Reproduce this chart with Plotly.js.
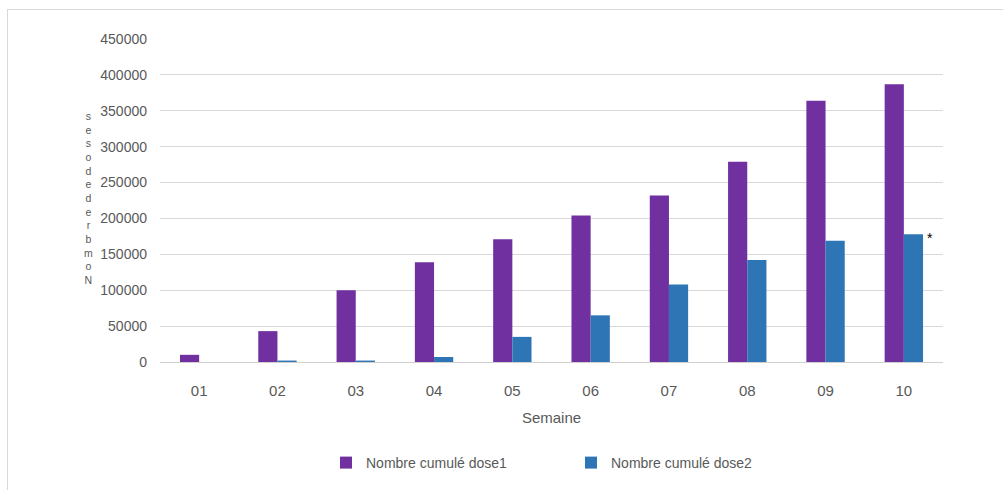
<!DOCTYPE html>
<html><head><meta charset="utf-8">
<script src="https://cdn.plot.ly/plotly-3.0.1.min.js"></script>
<style>
html,body{margin:0;padding:0;background:#fff;}
#wrap{position:relative;width:1003px;height:490px;}
#frame{position:absolute;left:7px;top:9px;width:1000px;height:485px;border:1px solid #d9d9d9;box-sizing:border-box;pointer-events:none;}
#chart{position:absolute;left:0;top:0;width:1003px;height:490px;}
</style></head>
<body><div id="wrap"><div id="chart"></div><div id="frame"></div></div>
<script>
const categories = ["01","02","03","04","05","06","07","08","09","10"];
const dose1 = [10000, 43000, 100000, 139000, 171000, 204000, 232000, 279000, 364000, 387000];
const dose2 = [0, 2000, 2000, 7000, 35000, 65000, 108000, 142000, 169000, 178000];
const seriesNames = ["Nombre cumulé dose1", "Nombre cumulé dose2"];
const yTitle = "Nombre de doses";
const xTitle = "Semaine";
const tickVals = [0,50000,100000,150000,200000,250000,300000,350000,400000,450000];

const fam = "Liberation Sans, Arial, sans-serif";
const grey = "#595959";
const traces = [
  {type:"bar", name:seriesNames[0], x:categories, y:dose1, marker:{color:"#7030A0"}},
  {type:"bar", name:seriesNames[1], x:categories, y:dose2, marker:{color:"#2E75B6"}}
];
// y-axis title rendered as stacked reversed letters, as in the reference
const stacked = yTitle.replace(/ /g,"").split("").reverse().join("<br>");
const annotations = [
  {xref:"paper", yref:"paper", x:(88-160)/783, y:(363-198)/324, text:stacked, showarrow:false,
   font:{family:fam, size:10.5, color:grey}, xanchor:"center", yanchor:"middle", align:"center"},
  {x:categories.length-1, y:dose2[dose2.length-1], xref:"x", yref:"y", text:"*", showarrow:false,
   xshift:26, yshift:-4, font:{family:fam, size:14, color:"#000"}}
];

const layout = {
  width:1003, height:490,
  margin:{l:160, r:60, t:39, b:127},
  paper_bgcolor:"#fff", plot_bgcolor:"#fff",
  font:{family:fam, size:14, color:grey},
  barmode:"group", bargap:0.51, bargroupgap:0,
  showlegend:true,
  legend:{orientation:"h", x:(326-160)/783, xanchor:"left", y:(363-463)/324, yanchor:"middle",
    font:{family:fam, size:14, color:grey}, entrywidth:200, entrywidthmode:"pixels"},
  xaxis:{type:"category", range:[-0.5, categories.length-0.5], showgrid:false, showline:false, zeroline:false, ticks:"",
    tickfont:{family:fam, size:15, color:grey}, ticklabelstandoff:18,
    title:{text:xTitle, font:{family:fam, size:15, color:grey}, standoff:14}},
  yaxis:{range:[0,450000], tickvals:tickVals, ticktext:tickVals.map(String),
    showgrid:true, gridcolor:"#d9d9d9", gridwidth:1, zeroline:true, zerolinecolor:"#d0d0d0",
    zerolinewidth:1, showline:false, ticks:"", ticklabelstandoff:12,
    tickfont:{family:fam, size:14, color:grey}},
  annotations: annotations
};
Plotly.newPlot("chart", traces, layout, {displayModeBar:false, staticPlot:true});
</script></body></html>
